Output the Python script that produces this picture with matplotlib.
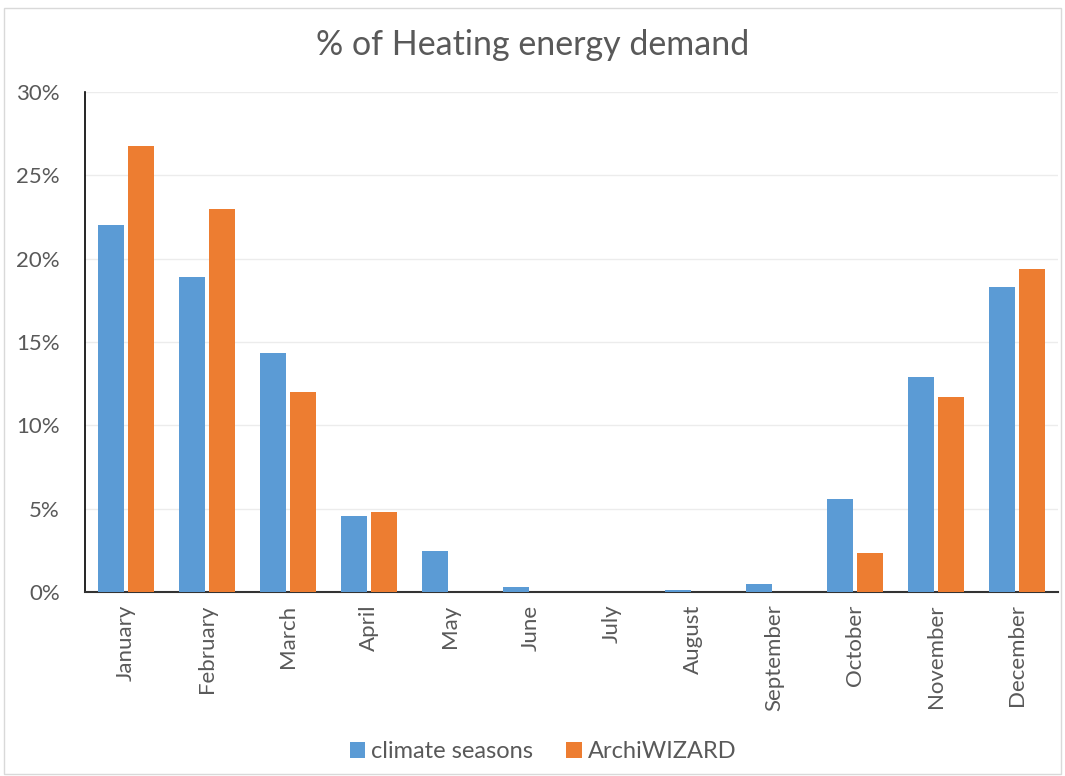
import matplotlib
matplotlib.use("Agg")
import matplotlib.pyplot as plt
import numpy as np
from matplotlib.patches import Rectangle

months = ["January", "February", "March", "April", "May", "June", "July",
          "August", "September", "October", "November", "December"]
climate_seasons = [22.0, 18.9, 14.34, 4.56, 2.45, 0.28, 0.0, 0.1, 0.46, 5.56, 12.88, 18.28]
archiwizard = [26.76, 22.98, 12.0, 4.78, 0.0, 0.0, 0.0, 0.0, 0.0, 2.32, 11.7, 19.36]
yticks = [0, 5, 10, 15, 20, 25, 30]
ytick_labels = ["0%", "5%", "10%", "15%", "20%", "25%", "30%"]

plt.rcParams['font.family'] = ['Lato', 'DejaVu Sans']
txt = "#595959"

W, H = 1065, 776
fig = plt.figure(figsize=(W / 100, H / 100), dpi=100)
fig.patch.set_facecolor("white")
fig.add_artist(Rectangle((4 / W, 2 / H), (1061 - 4) / W, (768 - 2) / H,
                         transform=fig.transFigure, fill=False,
                         edgecolor="#d9d9d9", linewidth=1.0))

ax = fig.add_axes([85 / W, 1 - 592 / H, (1058 - 85) / W, (592 - 92) / H])
x = np.arange(len(months))
bw = 0.32
gap = 0.025
ax.bar(x - bw / 2 - gap, climate_seasons, width=bw, color="#5b9bd5",
       label="climate seasons", zorder=3)
ax.bar(x + bw / 2 + gap, archiwizard, width=bw, color="#ed7d31",
       label="ArchiWIZARD", zorder=3)

ax.set_xlim(-0.5, len(months) - 0.5)
ax.set_ylim(0, 30)
ax.set_yticks(yticks)
ax.set_yticklabels(ytick_labels, fontsize=16, color=txt)
ax.set_xticks(x)
ax.set_xticklabels(months, rotation=90, fontsize=16, color=txt)
ax.tick_params(axis="x", length=0, pad=9)
ax.tick_params(axis="y", length=0, pad=18)
ax.grid(axis="y", color="#ececec", linewidth=1, zorder=0)
for s in ["top", "right"]:
    ax.spines[s].set_visible(False)
ax.spines["left"].set_color("black")
ax.spines["bottom"].set_color("#333333")
ax.spines["left"].set_linewidth(1.2)
ax.spines["bottom"].set_linewidth(1.5)

fig.text(0.5, 1 - 45 / H, "% of Heating energy demand", ha="center", va="center",
         fontsize=24.5, color=txt)

fig.legend(loc="center", bbox_to_anchor=(0.51, 1 - 752 / H), ncol=2, frameon=False,
           fontsize=17, handlelength=0.65, handleheight=0.65, columnspacing=1.4,
           handletextpad=0.25, labelcolor=txt)

fig.savefig("out.png", dpi=100)
